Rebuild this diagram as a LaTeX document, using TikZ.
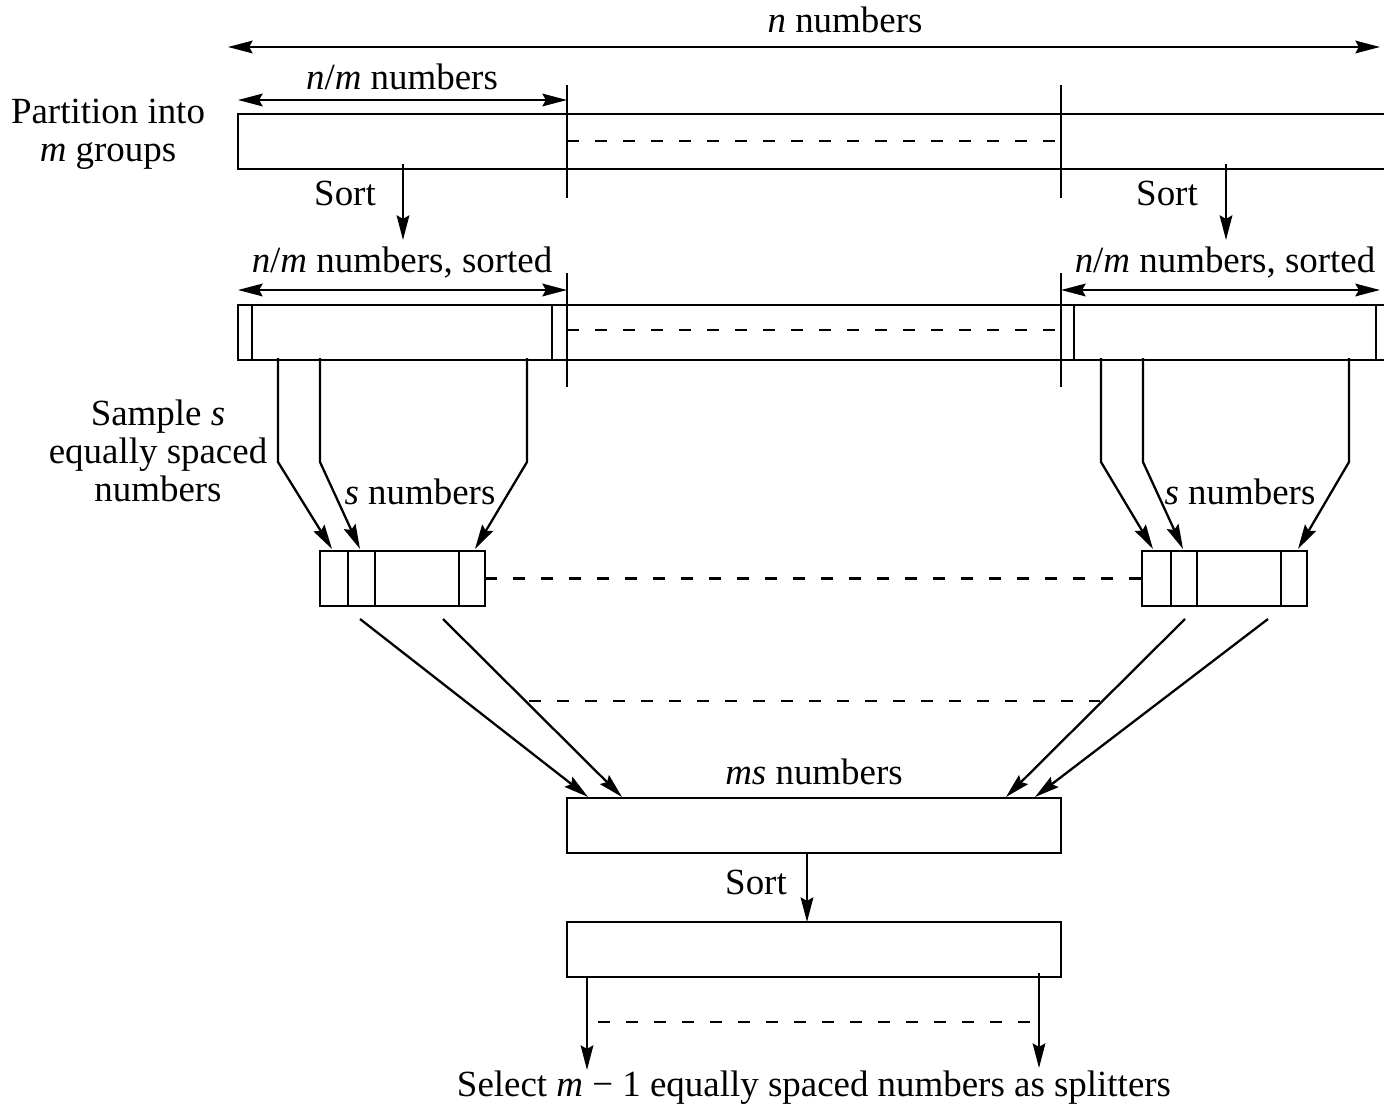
\documentclass[tikz,border=0pt]{standalone}
\usepackage{fontspec}
\setmainfont{Liberation Serif}
\usetikzlibrary{arrows.meta}
\begin{document}
\begin{tikzpicture}[x=0.01cm,y=-0.01cm,line width=0.65pt,
  box/.style={draw,inner sep=0pt,outer sep=0pt,anchor=north west,minimum height=0.55cm},
  lbl/.style={inner sep=0pt,font=\fontsize{10.5}{10.8}\selectfont,align=center},
  arr/.style={-{Stealth[length=7pt,width=3.6pt,inset=1pt]}},
  dim/.style={{Stealth[length=7pt,width=3.6pt,inset=1pt]}-{Stealth[length=7pt,width=3.6pt,inset=1pt]}},
  dsh/.style={dash pattern=on 0.12cm off 0.16cm}]
\clip (0,0) rectangle (1384,1109);
% row 1
\node[box,minimum width=11.62cm] (r1) at (238,114) {};
\draw (567,85) -- (567,198);
\draw (1061,85) -- (1061,198);
\draw[dsh] (567,141) -- (1061,141);
% row 2
\node[box,minimum width=11.62cm] (r2) at (238,305) {};
\foreach \x in {252,552,1074,1376} \draw (\x,305) -- (\x,360);
\draw (567,273) -- (567,387);
\draw (1061,273) -- (1061,387);
\draw[dsh] (567,330) -- (1061,330);
% sample boxes
\node[box,minimum width=1.65cm] (sL) at (320,551) {};
\node[box,minimum width=1.65cm] (sR) at (1142,551) {};
\foreach \x in {348,375,459,1171,1197,1281} \draw (\x,551) -- (\x,606);
\draw[dsh] (sL.east) -- (sR.west);
% ms boxes
\node[box,minimum width=4.94cm] (ms) at (567,798) {};
\node[box,minimum width=4.94cm] (srt) at (567,922) {};
% labels
\node[lbl] (tn) at (845,20) {\textit{n} numbers};
\node[lbl] (tnm) at (402,77) {\textit{n}/\textit{m} numbers};
\node[lbl] (tpart) at (108,134) {Partition into\\\textit{m} groups};
\node[lbl] (ts1) at (345,193) {Sort};
\node[lbl] (ts2) at (1167,193) {Sort};
\node[lbl] (tsl) at (402,263) {\textit{n}/\textit{m} numbers, sorted};
\node[lbl] (tsr) at (1225,263) {\textit{n}/\textit{m} numbers, sorted};
\node[lbl] (tsamp) at (158,451) {Sample \textit{s}\\equally spaced\\numbers};
\node[lbl] (tnl) at (420,492) {\textit{s} numbers};
\node[lbl] (tnr) at (1240,492) {\textit{s} numbers};
\node[lbl] (tms) at (814,772) {\textit{ms} numbers};
\node[lbl] (ts3) at (756,882) {Sort};
\node[lbl] (tsel) at (814,1088) {Select \textit{m} − 1 equally spaced numbers as splitters};
% dimension arrows
\coordinate (dA) at (228,47); \coordinate (dB) at (1380,47);
\draw[dim] (dA) -- (dB);
\coordinate (d1a) at (238,100); \coordinate (d1b) at (567,100);
\draw[dim] (d1a) -- (d1b);
\coordinate (d2a) at (238,290); \coordinate (d2b) at (567,290);
\draw[dim] (d2a) -- (d2b);
\coordinate (d3a) at (1061,290); \coordinate (d3b) at (1380,290);
\draw[dim] (d3a) -- (d3b);
% sort arrows
\coordinate (sa1) at (403,164); \coordinate (sb1) at (403,240);
\draw[arr] (sa1) -- (sb1);
\coordinate (sa2) at (1226,164); \coordinate (sb2) at (1226,240);
\draw[arr] (sa2) -- (sb2);
% sampling arrows
\draw[arr] (278,358) -- (278,462) -- (332,549);
\draw[arr] (320,358) -- (320,462) -- (360,549);
\draw[arr] (527,358) -- (527,462) -- (475,549);
\draw[arr] (1101,358) -- (1101,462) -- (1153,549);
\draw[arr] (1143,358) -- (1143,462) -- (1183,549);
\draw[arr] (1349,358) -- (1349,462) -- (1298,549);
% to ms box
\draw[arr] (360,619) -- (588,797);
\draw[arr] (443,619) -- (622,797);
\draw[arr] (1185,619) -- (1006,797);
\draw[arr] (1268,619) -- (1035,797);
\draw[dsh] (529,701) -- (1100,701);
% sort ms
\draw[arr] (ms.south -| 807,0) -- (srt.north -| 807,0);
% splitters
\coordinate (p1) at (587,1070); \coordinate (p2) at (1039,1068);
\draw[arr] (srt.south -| p1) -- (p1);
\draw[arr] (1039,973) -- (p2);
\draw[dsh] (598,1022) -- (1039,1022);
\end{tikzpicture}
\end{document}
